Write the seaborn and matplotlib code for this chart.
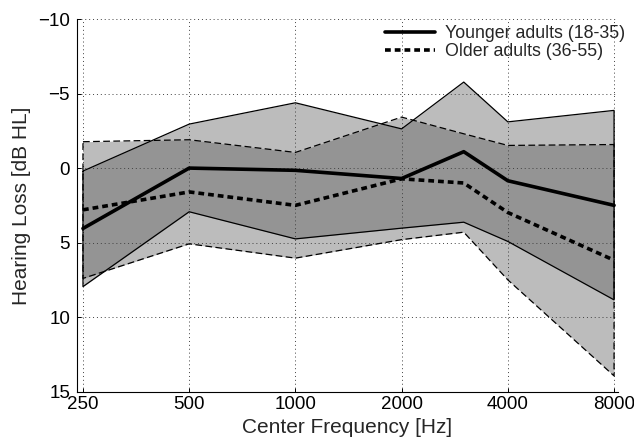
import matplotlib
matplotlib.use("Agg")
import matplotlib.pyplot as plt
import seaborn as sns
import pandas as pd

# ---- data ----
freqs = [250, 500, 1000, 2000, 3000, 4000, 8000]
tick_freqs = [250, 500, 1000, 2000, 4000, 8000]
tick_labels = ["250", "500", "1000", "2000", "4000", "8000"]

young_mean = [4.05, 0.0, 0.15, 0.70, -1.10, 0.85, 2.50]
young_upper = [0.20, -2.95, -4.38, -2.63, -5.77, -3.10, -3.87]
young_lower = [7.95, 2.93, 4.75, 4.03, 3.63, 4.92, 8.84]

older_mean = [2.80, 1.60, 2.50, 0.72, 1.00, 2.98, 6.18]
older_upper = [-1.77, -1.90, -1.05, -3.42, -2.30, -1.52, -1.58]
older_lower = [7.40, 5.08, 6.04, 4.80, 4.30, 7.50, 13.94]

young_label = "Younger adults (18-35)"
older_label = "Older adults (36-55)"
y_ticks = [-10, -5, 0, 5, 10, 15]

df_young = pd.DataFrame({"freq": freqs, "loss": young_mean})
df_older = pd.DataFrame({"freq": freqs, "loss": older_mean})

sns.set_style("white")
plt.rcParams["font.family"] = ["Liberation Sans", "DejaVu Sans"]

fig = plt.figure(figsize=(6.34, 4.42), dpi=100)
ax = fig.add_axes([0.1215, 0.1138, 0.8533, 0.8432])
ax.set_xscale("log", base=2)

fill_col = (0.35, 0.35, 0.35)
fill_alpha = 0.4

# bands
ax.fill_between(freqs, young_upper, young_lower, color=fill_col, alpha=fill_alpha,
                linewidth=0, zorder=1)
ax.fill_between(freqs, older_upper, older_lower, color=fill_col, alpha=fill_alpha,
                linewidth=0, zorder=1)

# band outlines (closed)
yx = freqs + freqs[::-1] + [freqs[0]]
yy = young_upper + young_lower[::-1] + [young_upper[0]]
oy = older_upper + older_lower[::-1] + [older_upper[0]]
ax.plot(yx, yy, color="black", linewidth=0.9, zorder=2)
ax.plot(yx, oy, color="black", linewidth=0.9, linestyle=(0, (5.4, 2.7)), zorder=2)

# mean lines
sns.lineplot(data=df_young, x="freq", y="loss", ax=ax, color="black",
             linewidth=2.6, label=young_label, zorder=3)
sns.lineplot(data=df_older, x="freq", y="loss", ax=ax, color="black",
             linewidth=2.6, linestyle=(0, (1.6, 1.1)), label=older_label, zorder=3)

ax.set_xlim(240.5, 8210)
ax.set_ylim(15, -10)
ax.set_xticks(tick_freqs)
ax.set_xticklabels(tick_labels)
ax.xaxis.set_minor_locator(matplotlib.ticker.NullLocator())
ax.set_yticks(y_ticks)

ax.grid(True, linestyle=(0, (1, 3)), color="0.25", linewidth=0.7)
ax.set_axisbelow("line")

for s in ["top", "right"]:
    ax.spines[s].set_visible(False)
for s in ["left", "bottom"]:
    ax.spines[s].set_color("black")
    ax.spines[s].set_linewidth(0.8)

ax.tick_params(direction="in", length=3, width=0.7, labelsize=13.5, colors="black",
               left=True, bottom=True)
ax.tick_params(axis="x", pad=3)
ax.tick_params(axis="y", pad=5)

ax.set_xlabel("Center Frequency [Hz]", fontsize=15, labelpad=4)
ax.set_ylabel("Hearing Loss [dB HL]", fontsize=15, labelpad=5)

leg = ax.legend(loc="upper left", bbox_to_anchor=(385 / 634, 1 - 25 / 442),
                bbox_transform=fig.transFigure, frameon=False, fontsize=12.8,
                handlelength=2.8, handletextpad=0.6, labelspacing=0.08,
                borderpad=0, borderaxespad=0)

fig.savefig("out.png", dpi=100)
